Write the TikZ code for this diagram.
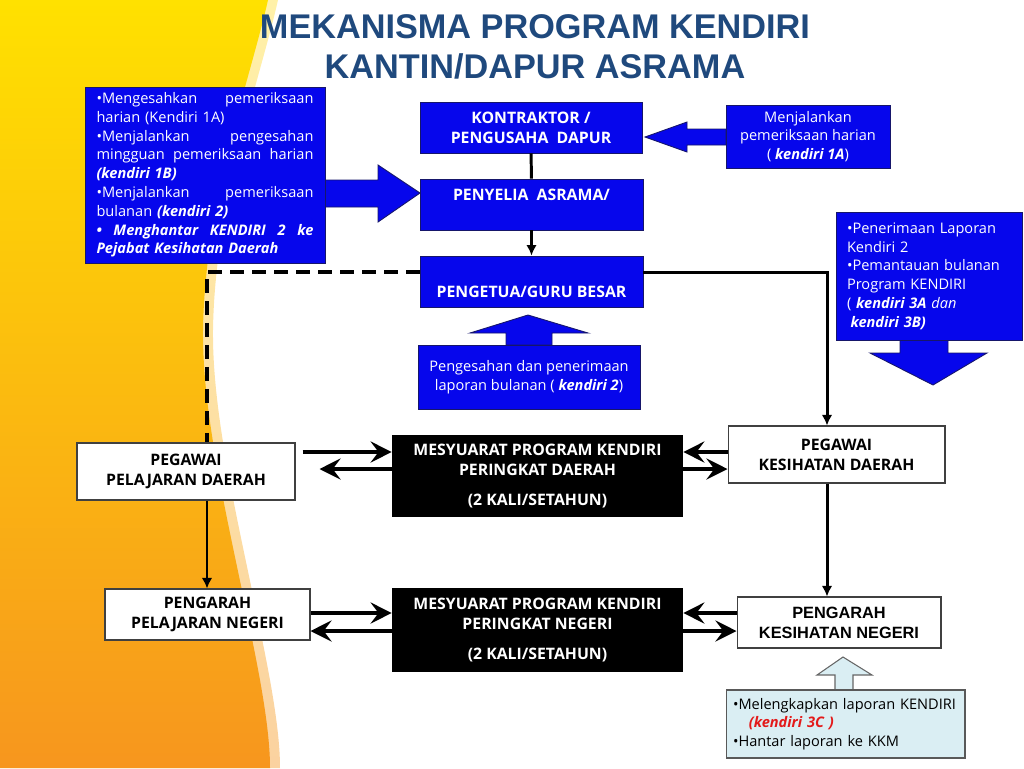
\documentclass[tikz,border=0pt]{standalone}
\usepackage{fontspec}
\setmainfont{Open Sans}
\newfontfamily\arialfont{Liberation Sans}
\usetikzlibrary{arrows.meta, positioning, calc}
\definecolor{mBlue}{HTML}{0606EC}
\definecolor{mNavy}{HTML}{16166A}
\definecolor{mTitle}{HTML}{1F497D}
\definecolor{mPale}{HTML}{DAEEF3}
\definecolor{mRed}{HTML}{E31A1A}
\definecolor{bgTop}{HTML}{FFE100}
\definecolor{bgBottom}{HTML}{F7961E}
\definecolor{stripTop}{HTML}{FFF1A8}
\definecolor{stripBottom}{HTML}{FBD2A0}

\newcommand{\boxfont}{\fontsize{9}{11.3}\selectfont}
\newcommand{\notefont}{\fontsize{8.3}{10.7}\selectfont}
\newcommand{\ki}[1]{\textbf{\textit{#1}}}

\tikzset{
  bluebox/.style={fill=mBlue, draw=mNavy, line width=0.5pt, text=white, inner sep=0pt},
  whitebox/.style={fill=white, draw=black!75, line width=0.6pt, inner sep=0pt,
    font=\boxfont\bfseries, align=center},
  blackbox/.style={fill=black, text=white, inner sep=0pt, font=\boxfont\bfseries, align=center},
  notebox/.style={fill=mPale, draw=black!65, line width=0.6pt, inner sep=0pt, font=\notefont},
  link/.style={line width=1.7pt},
  linkarrow/.style={link, -{Latex[length=6pt, width=6pt]}},
  dashline/.style={line width=2.2pt, dash pattern=on 8pt off 4.5pt},
  twoway/.style={line width=2.6pt, -{Stealth[length=12pt, width=12pt, inset=4.5pt]}},
  blockarrow/.style={fill=mBlue, draw=mNavy, line width=0.5pt}
}

\begin{document}
\begin{tikzpicture}[x=0.02cm, y=-0.02cm]
  \useasboundingbox (0,0) rectangle (1024,768);

  % background
  \shade[top color=stripTop, bottom color=stripBottom, xshift=0.2cm]
    (0,0) -- (268,0) .. controls (250,80) and (205,200) .. (203,330)
    .. controls (202,430) and (238,560) .. (260,680)
    .. controls (268,725) and (270,750) .. (270,768) -- (0,768) -- cycle;
  \shade[top color=bgTop, bottom color=bgBottom]
    (0,0) -- (268,0) .. controls (250,80) and (205,200) .. (203,330)
    .. controls (202,430) and (238,560) .. (260,680)
    .. controls (268,725) and (270,750) .. (270,768) -- (0,768) -- cycle;

  % title
  \node[font=\arialfont\bfseries\fontsize{19.5}{22}\selectfont, text=mTitle, anchor=base]
    (titel1) at (535,38) {MEKANISMA PROGRAM KENDIRI};
  \node[font=\arialfont\bfseries\fontsize{19.5}{22}\selectfont, text=mTitle, anchor=base]
    (titel2) at (535,78) {KANTIN/DAPUR ASRAMA};

  % block arrows
  \filldraw[blockarrow] (726,129) -- (687,129) -- (687,122) -- (645,137)
    -- (687,152) -- (687,145) -- (726,145) -- cycle;
  \filldraw[blockarrow] (325,180) -- (378,180) -- (378,165) -- (420,193)
    -- (378,222) -- (378,207) -- (325,207) -- cycle;
  \filldraw[blockarrow] (506,345) -- (506,333) -- (470,333) -- (528,315)
    -- (588,333) -- (552,333) -- (552,345) -- cycle;
  \filldraw[blockarrow] (900,338) -- (900,353) -- (870,353) -- (933,385)
    -- (987,353) -- (948,353) -- (948,338) -- cycle;
  \filldraw[fill=mPale, draw=black!60, line width=0.6pt] (835,690) -- (835,675)
    -- (817,675) -- (843,657) -- (872,675) -- (853,675) -- (853,690) -- cycle;

  % blue boxes
  \node[bluebox, font=\notefont, align=left, text width=4.34cm,
    minimum width=4.8cm, minimum height=3.52cm] (tugas) at (205,175)
    {•Mengesahkan\hfill pemeriksaan\\
     harian (Kendiri 1A)\\
     •Menjalankan\hfill pengesahan\\
     mingguan\hfill pemeriksaan\hfill harian\\
     \ki{(kendiri 1B)}\\
     •Menjalankan\hfill pemeriksaan\\
     bulanan \ki{(kendiri 2)}\\
     \ki{•\hfill Menghantar\hfill KENDIRI\hfill 2\hfill ke}\\
     \ki{Pejabat Kesihatan Daerah}};
  \node[bluebox, font=\boxfont\bfseries, align=center,
    minimum width=4.44cm, minimum height=1.02cm] (kontraktor) at (531,127.5)
    {KONTRAKTOR /\\PENGUSAHA\ \ DAPUR};
  \node[bluebox, font=\boxfont\bfseries, align=center,
    minimum width=4.46cm, minimum height=1.02cm] (penyelia) at (531.5,204.5)
    {PENYELIA\ \ ASRAMA/\\\phantom{P}};
  \node[bluebox, font=\boxfont\bfseries, align=center,
    minimum width=4.46cm, minimum height=1.02cm] (pengetua) at (531.5,281.5)
    {\phantom{P}\\PENGETUA/GURU BESAR};
  \node[bluebox, font=\notefont, align=center,
    minimum width=3.28cm, minimum height=1.26cm] (harian) at (808,136.5)
    {Menjalankan\\pemeriksaan harian\\( \ki{kendiri 1A})};
  \node[bluebox, font=\notefont, align=center,
    minimum width=4.44cm, minimum height=1.28cm] (pengesahan) at (529,377)
    {Pengesahan dan penerimaan\\laporan bulanan ( \ki{kendiri 2})};
  \node[bluebox, font=\notefont, align=left, text width=3.28cm,
    minimum width=3.72cm, minimum height=2.56cm] (pemantauan) at (929,276)
    {•Penerimaan Laporan\\Kendiri 2\\•Pemantauan bulanan\\Program KENDIRI\\
     ( \ki{kendiri 3A} \textit{dan}\\\hspace*{2pt}\ki{kendiri 3B)}};

  % white and black boxes
  \node[whitebox, minimum width=4.36cm, minimum height=1.14cm] (ppd) at (186,471.5)
    {PEGAWAI\\PELAJARAN DAERAH};
  \node[whitebox, minimum width=4.34cm, minimum height=1.14cm] (pkd) at (836.5,454.5)
    {PEGAWAI\\KESIHATAN DAERAH};
  \node[whitebox, minimum width=4.1cm, minimum height=1.02cm] (ppn) at (207.5,614.5)
    {PENGARAH\\PELAJARAN NEGERI};
  \node[whitebox, font=\arialfont\bfseries\fontsize{9.3}{11.5}\selectfont,
    minimum width=4.08cm, minimum height=1.02cm] (pkn) at (839,622.5)
    {PENGARAH\\KESIHATAN NEGERI};
  \node[blackbox, minimum width=5.82cm, minimum height=1.64cm] (mpd) at (537.5,476)
    {MESYUARAT PROGRAM KENDIRI\\PERINGKAT DAERAH\\[5.7pt](2 KALI/SETAHUN)};
  \node[blackbox, minimum width=5.82cm, minimum height=1.68cm] (mpn) at (537.5,630)
    {MESYUARAT PROGRAM KENDIRI\\PERINGKAT NEGERI\\[5.7pt](2 KALI/SETAHUN)};
  \node[notebox, align=left, text width=4.5cm,
    minimum width=4.78cm, minimum height=1.36cm] (kkm) at (845.5,724)
    {•Melengkapkan laporan KENDIRI\\
     \hspace*{9pt}\textcolor{mRed}{\ki{(kendiri 3C )}}\\
     •Hantar laporan ke KKM};

  % connectors
  \coordinate (kanan) at (827,272);
  \coordinate (kiri) at (207,272);
  \draw[link] (kontraktor) -- (penyelia);
  \draw[linkarrow] (penyelia) -- (pengetua);
  \draw[linkarrow] (pengetua.east |- kanan) -- (kanan) -- (kanan |- pkd.north);
  \draw[dashline] (pengetua.west |- kiri) -- (kiri) -- (kiri |- ppd.north);
  \draw[linkarrow] (kiri |- ppd.south) -- (kiri |- ppn.north);
  \draw[linkarrow] (kanan |- pkd.south) -- (kanan |- pkn.north);

  \coordinate (d1) at (0,452);
  \coordinate (d2) at (0,469);
  \coordinate (n1) at (0,613);
  \coordinate (n2) at (0,631);
  \draw[twoway, shorten <=0.14cm] (ppd.east |- d1) -- (mpd.west |- d1);
  \draw[twoway, shorten >=0.48cm] (mpd.west |- d2) -- (ppd.east |- d2);
  \draw[twoway] (pkd.west |- d1) -- (mpd.east |- d1);
  \draw[twoway] (mpd.east |- d2) -- (pkd.west |- d2);
  \draw[twoway] (ppn.east |- n1) -- (mpn.west |- n1);
  \draw[twoway] (mpn.west |- n2) -- (ppn.east |- n2);
  \draw[twoway] (pkn.west |- n1) -- (mpn.east |- n1);
  \draw[twoway] (mpn.east |- n2) -- (pkn.west |- n2);
\end{tikzpicture}
\end{document}
